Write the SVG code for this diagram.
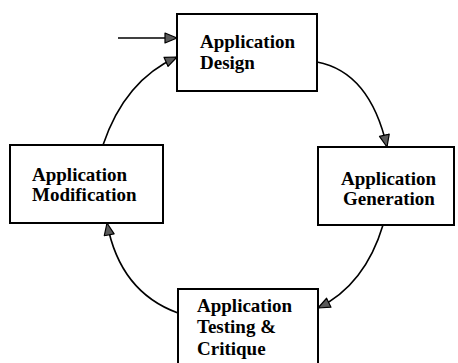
<svg xmlns="http://www.w3.org/2000/svg" width="458" height="363" viewBox="0 0 458 363">
  <defs>
    <marker id="head" markerUnits="userSpaceOnUse" markerWidth="14" markerHeight="12" refX="13" refY="6" orient="auto">
      <path d="M1,1 L13,6 L1,11 Z" fill="#5a5a5a" stroke="#000" stroke-width="1.2" stroke-linejoin="round"/>
    </marker>
    <style>
      .box { fill: #fff; stroke: #000; stroke-width: 2; }
      .lbl { font-family: "Liberation Serif", "Times New Roman", serif; font-weight: bold; font-size: 19px; fill: #000; }
      .edge { fill: none; stroke: #000; stroke-width: 1.6; marker-end: url(#head); }
    </style>
  </defs>
  <rect width="458" height="363" fill="#fff"/>

  <g id="connectors">
    <path class="edge" d="M118,38 L177,38"/>
    <path class="edge" d="M317,62 Q370,72 387,147"/>
    <path class="edge" d="M383,225 Q365,285 318,308"/>
    <path class="edge" d="M178,313 Q120,292 107,223"/>
    <path class="edge" d="M103,145 Q125,80 177,57"/>
  </g>

  <g id="design">
    <rect class="box" x="177" y="14" width="140" height="77"/>
    <text class="lbl" x="200" y="48">Application</text>
    <text class="lbl" x="200" y="69">Design</text>
  </g>

  <g id="generation">
    <rect class="box" x="318" y="147" width="136" height="78"/>
    <text class="lbl" x="341" y="185">Application</text>
    <text class="lbl" x="343" y="205">Generation</text>
  </g>

  <g id="testing">
    <rect class="box" x="178" y="289" width="140" height="80"/>
    <text class="lbl" x="197" y="312">Application</text>
    <text class="lbl" x="197" y="333">Testing &amp;</text>
    <text class="lbl" x="197" y="355">Critique</text>
  </g>

  <g id="modification">
    <rect class="box" x="10" y="145" width="153" height="78"/>
    <text class="lbl" x="32" y="181">Application</text>
    <text class="lbl" x="32" y="201">Modification</text>
  </g>
</svg>
